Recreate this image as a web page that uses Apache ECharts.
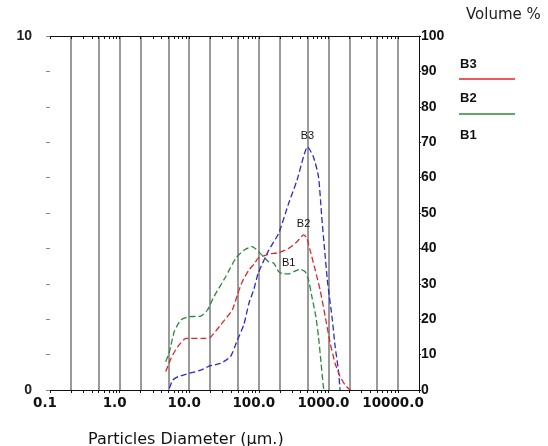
<!DOCTYPE html>
<html>
<head>
<meta charset="utf-8">
<script src="https://cdn.jsdelivr.net/npm/echarts@6/dist/echarts.min.js"></script>
<style>
  html, body { margin: 0; padding: 0; background: #fff; }
  #chart { width: 548px; height: 446px; }
</style>
</head>
<body>
<div id="chart"></div>
<script>
// particle size axis range (µm) and the grid / tick positions
var xMin = 0.1;
var xMax = 20000;
var gridValues = [0.2, 0.5, 1, 2, 5, 10, 20, 50, 100, 200, 500, 1000, 2000, 5000, 10000];
var minorTicks = [0.1, 0.2, 0.3, 0.4, 0.5, 0.6, 0.7, 0.8, 0.9,
  1, 2, 3, 4, 5, 6, 7, 8, 9, 10, 20, 30, 40, 50, 60, 70, 80, 90,
  100, 200, 300, 400, 500, 600, 700, 800, 900, 1000, 2000, 3000, 4000, 5000, 6000, 7000, 8000, 9000,
  10000, 20000];

// B3 (blue)
var b3Size = [5.2, 5.8, 7, 10, 14.7, 19.7, 28, 39, 49, 61, 72, 85, 98, 139, 193, 268, 354, 439, 500, 607, 719, 801, 873, 976, 1125, 1250, 1390, 1470];
var b3Vol = [0.5, 2.8, 3.8, 4.7, 5.6, 6.8, 7.5, 9.4, 14, 18.5, 24.5, 28.5, 33, 39.5, 44.3, 52.7, 59.3, 65.9, 68.7, 65.9, 60.3, 49, 40.5, 30.1, 20.7, 12.2, 5.6, 0];
var b3LabelAt = 500;

// B2 (red)
var b2Size = [4.6, 5.5, 6.8, 9, 10, 17.3, 20.4, 28.3, 41.5, 49, 57.8, 72, 85, 98, 139, 193, 268, 354, 439, 490, 545, 646, 760, 900, 1060, 1250, 1470, 1740, 2050];
var b2Vol = [5.2, 9, 12.2, 14.6, 14.6, 14.6, 15, 18.4, 22.6, 26.8, 30.6, 33.9, 35.5, 37.2, 38.4, 38.8, 40, 41.9, 43.8, 42.9, 39.5, 33.9, 28.2, 20.7, 13.2, 7.5, 3.8, 1.4, 0];
var b2LabelAt = 439;

// B1 (green)
var b1Size = [4.6, 5.2, 6.1, 7.6, 10, 14.7, 18.3, 22.7, 33.4, 46.5, 61, 80, 111, 139, 164, 193, 228, 268, 316, 393, 464, 518, 578, 660, 719, 785, 846, 870];
var b1Vol = [8, 10.8, 16.5, 19.8, 20.7, 20.9, 22.6, 26.4, 32, 37.2, 39.5, 40.5, 38.1, 36.2, 35.8, 33.4, 32.8, 32.8, 33.4, 34.1, 33.4, 31.1, 26.4, 20.7, 15.1, 7.5, 0.9, 0];
var b1LabelAt = 268;

var font = "'Liberation Sans', Arial, sans-serif";
var wideFont = "'DejaVu Sans', sans-serif";

function curve(name, color, sizes, vols, labelAt) {
  var i = sizes.indexOf(labelAt);
  return {
    name: name,
    type: 'line',
    xAxisIndex: 0,
    yAxisIndex: 1,
    smooth: 0.2,
    symbol: 'none',
    lineStyle: { color: color, width: 1.3, type: [6, 3] },
    data: sizes.map(function (s, k) { return [s, vols[k]]; }),
    markPoint: {
      symbol: 'circle',
      symbolSize: 2,
      silent: true,
      itemStyle: { color: 'rgba(0,0,0,0)' },
      label: { show: true, position: 'top', distance: 4, formatter: name,
        fontSize: 11, color: '#111', fontFamily: font },
      data: [{ coord: [sizes[i], vols[i]] }]
    },
    z: 3
  };
}

var chart = echarts.init(document.getElementById('chart'));

var option = {
  backgroundColor: '#fff',
  animation: false,
  title: {
    text: 'Particles Diameter (µm.)',
    left: 83,
    top: 427,
    textStyle: { fontSize: 16, fontWeight: 'normal', color: '#111', fontFamily: wideFont }
  },
  grid: { left: 50, right: 129, top: 36, bottom: 56 },
  xAxis: [{
    // data axis with decade labels
    type: 'log',
    position: 'bottom',
    min: xMin,
    max: xMax,
    axisLine: { show: true, onZero: false, lineStyle: { color: '#111', width: 1.2 } },
    axisTick: { show: false },
    splitLine: { show: false },
    axisLabel: {
      margin: 6,
      fontSize: 13.5,
      fontWeight: 'bold',
      color: '#111',
      fontFamily: wideFont,
      padding: [0, 10, 0, 0],
      formatter: function (v) {
        var l = Math.log10(v);
        if (Math.abs(l - Math.round(l)) > 1e-6 || v > 10001) return '';
        return v.toFixed(1);
      }
    }
  }, {
    // vertical grid lines at 1-2-5 positions
    type: 'value',
    position: 'bottom',
    min: Math.log10(xMin),
    max: Math.log10(xMax),
    axisLine: { show: false, onZero: false },
    axisTick: { show: false, customValues: gridValues.map(Math.log10) },
    axisLabel: { show: false },
    splitLine: { show: true, lineStyle: { color: '#9a9a9a', width: 2 } }
  }, {
    // bottom minor ticks
    type: 'value',
    position: 'bottom',
    min: Math.log10(xMin),
    max: Math.log10(xMax),
    axisLine: { show: false, onZero: false },
    axisTick: { show: true, length: 3, customValues: minorTicks.map(Math.log10), lineStyle: { color: '#111' } },
    axisLabel: { show: false },
    splitLine: { show: false }
  }, {
    // top frame line with ticks
    type: 'value',
    position: 'top',
    min: Math.log10(xMin),
    max: Math.log10(xMax),
    axisLine: { show: true, onZero: false, lineStyle: { color: '#111', width: 1.2 } },
    axisTick: { show: true, inside: true, length: 3, customValues: minorTicks.map(Math.log10), lineStyle: { color: '#111' } },
    axisLabel: { show: false },
    splitLine: { show: false }
  }],
  yAxis: [{
    type: 'value',
    position: 'left',
    min: 0,
    max: 10,
    interval: 1,
    axisLine: { show: false, onZero: false },
    axisTick: { show: true, length: 4, lineStyle: { color: '#888' } },
    splitLine: { show: false },
    axisLabel: {
      margin: 18,
      fontSize: 14,
      fontWeight: 'bold',
      color: '#222',
      fontFamily: font,
      formatter: function (v) { return (v === 0 || v === 10) ? String(v) : ''; }
    }
  }, {
    type: 'value',
    position: 'right',
    min: 0,
    max: 100,
    interval: 10,
    axisLine: { show: true, onZero: false, lineStyle: { color: '#111', width: 1 } },
    axisTick: { show: true, length: 2, lineStyle: { color: '#111' } },
    splitLine: { show: false },
    axisLabel: {
      margin: 2,
      fontSize: 14,
      fontWeight: 'bold',
      color: '#111',
      fontFamily: font
    }
  }],
  series: [
    curve('B3', '#2a2ad2', b3Size, b3Vol, b3LabelAt),
    curve('B2', '#e0262a', b2Size, b2Vol, b2LabelAt),
    curve('B1', '#2b8a3a', b1Size, b1Vol, b1LabelAt)
  ],
  graphic: [
    { type: 'text', left: 466, top: 8,
      style: { text: 'Volume %', font: '15px ' + wideFont, fill: '#222' } },
    { type: 'text', left: 460, top: 58,
      style: { text: 'B3', font: 'bold 13px ' + font, fill: '#111' } },
    { type: 'line', shape: { x1: 459, y1: 79, x2: 515, y2: 79 },
      style: { stroke: '#e0262a', lineWidth: 1.5 } },
    { type: 'text', left: 460, top: 92,
      style: { text: 'B2', font: 'bold 13px ' + font, fill: '#111' } },
    { type: 'line', shape: { x1: 459, y1: 114, x2: 515, y2: 114 },
      style: { stroke: '#2b8a3a', lineWidth: 1.5 } },
    { type: 'text', left: 460, top: 129,
      style: { text: 'B1', font: 'bold 13px ' + font, fill: '#111' } }
  ]
};

chart.setOption(option);
</script>
</body>
</html>
